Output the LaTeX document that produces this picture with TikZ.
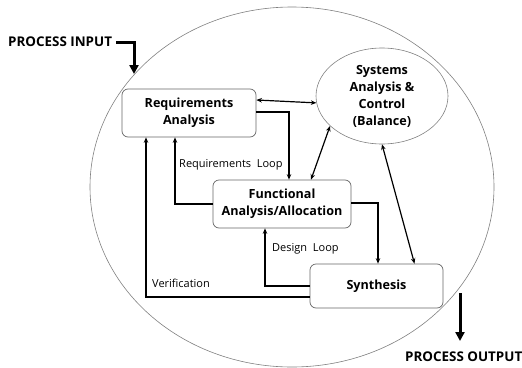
\documentclass[tikz,border=0pt]{standalone}
\usepackage{fontspec}
\setmainfont{Open Sans}
\usetikzlibrary{shapes.geometric,arrows.meta,calc}
\begin{document}
\begin{tikzpicture}[x=1pt,y=-1pt,
  box/.style={draw=black!60,line width=0.7pt,rounded corners=6pt,align=center,
    font=\bfseries\fontsize{12.6}{17}\selectfont,inner sep=0pt},
  lbl/.style={font=\fontsize{11}{12}\selectfont,inner sep=0pt,anchor=west},
  big/.style={font=\bfseries\fontsize{13.4}{15}\selectfont,inner sep=0pt},
  conn/.style={line width=1.4pt,-{Stealth[length=5.5pt,width=4.5pt]}},
  dconn/.style={line width=1.2pt,{Stealth[length=5.5pt,width=4.5pt]}-{Stealth[length=5.5pt,width=4.5pt]}},
  thick arrow/.style={line width=3pt,-{Triangle[length=9pt,width=9pt]}}]
\useasboundingbox (0,0) rectangle (522,367);
\node[ellipse,draw=black!50,line width=0.6pt,minimum width=404pt,minimum height=360pt,inner sep=0pt] (outer) at (292,187) {};
\node[box,minimum width=134pt,minimum height=48pt] (req) at (189,113) {Requirements\\Analysis};
\node[ellipse,draw=black!50,line width=0.6pt,minimum width=132pt,minimum height=96pt,inner sep=0pt,align=center,
  font=\bfseries\fontsize{12.6}{17}\selectfont] (sys) at (382,96) {Systems\\Analysis \&\\Control\\(Balance)};
\node[box,minimum width=138pt,minimum height=48pt] (func) at (282,204) {Functional\\Analysis/Allocation};
\node[box,minimum width=133pt,minimum height=44pt] (syn) at (376.5,286) {Synthesis};
\node[lbl] (rl) at (179,165) {Requirements\ \ Loop};
\node[lbl] (dl) at (272,249) {Design\ \ Loop};
\node[lbl] (vl) at (152,283) {Verification};
\node[big,anchor=west] (pin) at (8,42) {PROCESS INPUT};
\node[big,anchor=west] (pout) at (405,357) {PROCESS OUTPUT};
\coordinate (inend) at (134,74);
\coordinate (outstart) at (460,293);
\coordinate (outend) at (460,341);
% connectors
\draw[dconn] ($(req.east)+(0,-13)$) -- (sys.186);
\draw[conn] ($(req.east)+(0,-1)$) -| ($(func.north)+(7,0)$);
\draw[dconn] ($(func.north)+(29,0)$) -- (sys.210);
\draw[dconn] (sys.south) -- ($(syn.north)+(38,0)$);
\draw[conn] ($(func.east)+(0,-1)$) -| ($(syn.north)+(1.5,0)$);
\draw[conn] (syn.west) -| ($(func.south)+(-17,0)$);
\draw[conn] ($(syn.west)+(0,11)$) -| ($(req.south)+(-43,0)$);
\draw[conn] (func.west) -| ($(req.south)+(-14,0)$);
\draw[thick arrow] ($(pin.east)+(4,0)$) -| (inend);
\draw[thick arrow] (outstart) -- (outend);
\end{tikzpicture}
\end{document}
